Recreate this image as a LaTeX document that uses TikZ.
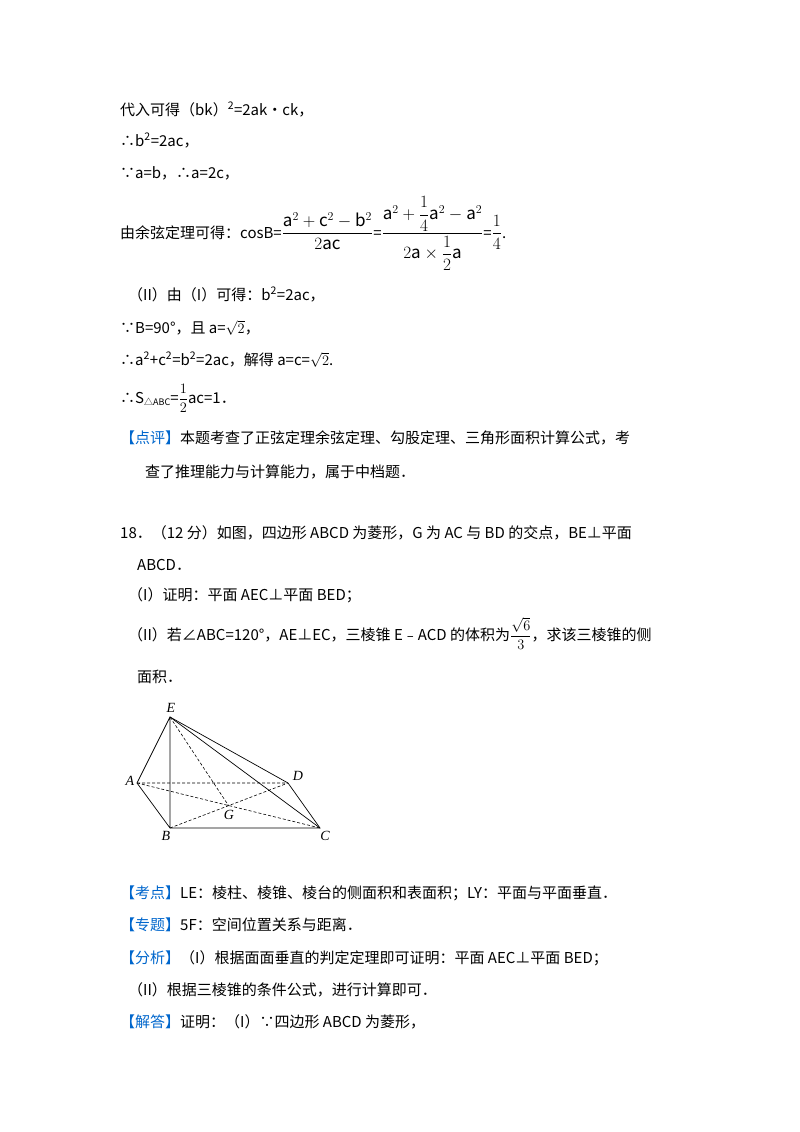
\documentclass[tikz,border=0pt]{standalone}
\usepackage{fontspec}
\setmainfont{Noto Sans CJK SC}
\newfontfamily\figfont{Liberation Serif}
\usepackage{amsmath}
\definecolor{tagblue}{RGB}{0,102,204}
\begin{document}
\begin{tikzpicture}[x=1pt,y=-1pt,
  ln/.style={anchor=base west,inner sep=0pt,font=\fontsize{15}{18}\selectfont},
  lab/.style={font=\figfont\fontsize{14}{16}\selectfont\itshape,inner sep=0pt},
  dsh/.style={dashed,dash pattern=on 3pt off 2pt,line width=0.6pt},
  sol/.style={line width=0.7pt}]
\useasboundingbox (0,0) rectangle (800,1132);
\node[ln] (l1) at (120,115) {代入可得（bk）\textsuperscript{2}=2ak•ck，};
\node[ln] (l2) at (120,146) {∴b\textsuperscript{2}=2ac，};
\node[ln] (l3) at (120,178) {∵a=b，∴a=2c，};
\node[ln] (l4) at (120,238) {由余弦定理可得：cosB={\fontsize{17}{20}\selectfont$\dfrac{\mathrm{a}^2+\mathrm{c}^2-\mathrm{b}^2}{2\mathrm{ac}}$}={\fontsize{17}{20}\selectfont$\dfrac{\mathrm{a}^2+\dfrac14\mathrm{a}^2-\mathrm{a}^2}{2\mathrm{a}\times\dfrac12\mathrm{a}}$}={\fontsize{17}{20}\selectfont$\dfrac14$}.};
\node[ln] (l5) at (128,300) {（II）由（I）可得：b\textsuperscript{2}=2ac，};
\node[ln] (l6) at (120,333) {∵B=90°，且 a=$\sqrt{2}$，};
\node[ln] (l7) at (120,365) {∴a\textsuperscript{2}+c\textsuperscript{2}=b\textsuperscript{2}=2ac，解得 a=c=$\sqrt{2}$.};
\node[ln] (l8) at (120,403) {∴S\raisebox{-2pt}{\fontsize{9}{10}\selectfont △ABC}=$\dfrac12$ac=1．};
\node[ln] (l9) at (120,443) {\textcolor{tagblue}{【点评】}本题考查了正弦定理余弦定理、勾股定理、三角形面积计算公式，考};
\node[ln] (l10) at (145,477) {查了推理能力与计算能力，属于中档题．};
\node[ln] (l11) at (120,538) {18．（12 分）如图，四边形 ABCD 为菱形，G 为 AC 与 BD 的交点，BE⊥平面};
\node[ln] (l12) at (137,570) {ABCD．};
\node[ln] (l13) at (128,600) {（I）证明：平面 AEC⊥平面 BED；};
\node[ln] (l14) at (128,640) {（II）若∠ABC=120°，AE⊥EC，三棱锥 E﹣ACD 的体积为$\dfrac{\sqrt6}{3}$，求该三棱锥的侧};
\node[ln] (l15) at (137,682) {面积．};
% figure
\coordinate (E) at (170,717);
\coordinate (A) at (137,783);
\coordinate (D) at (288,783);
\coordinate (B) at (170,828);
\coordinate (C) at (320,828);
\coordinate (G) at (228.5,805.5);
\draw[sol] (E)--(A)--(B)--(C)--(D)--(E)--(B);
\draw[sol] (E)--(C);
\draw[dsh] (A)--(D) (A)--(C) (B)--(D) (E)--(G);
\node[lab] (nE) at (171,708) {E};
\node[lab] (nA) at (130,781) {A};
\node[lab] (nD) at (298,776) {D};
\node[lab] (nG) at (229,815) {G};
\node[lab] (nB) at (166,836) {B};
\node[lab] (nC) at (325,836) {C};
% bottom text
\node[ln] (l16) at (120,898) {\textcolor{tagblue}{【考点】}LE：棱柱、棱锥、棱台的侧面积和表面积；LY：平面与平面垂直．};
\node[ln] (l17) at (120,930) {\textcolor{tagblue}{【专题】}5F：空间位置关系与距离．};
\node[ln] (l18) at (120,963) {\textcolor{tagblue}{【分析】}（I）根据面面垂直的判定定理即可证明：平面 AEC⊥平面 BED；};
\node[ln] (l19) at (128,995) {（II）根据三棱锥的条件公式，进行计算即可．};
\node[ln] (l20) at (120,1027) {\textcolor{tagblue}{【解答】}证明：（I）∵四边形 ABCD 为菱形，};
\end{tikzpicture}
\end{document}
